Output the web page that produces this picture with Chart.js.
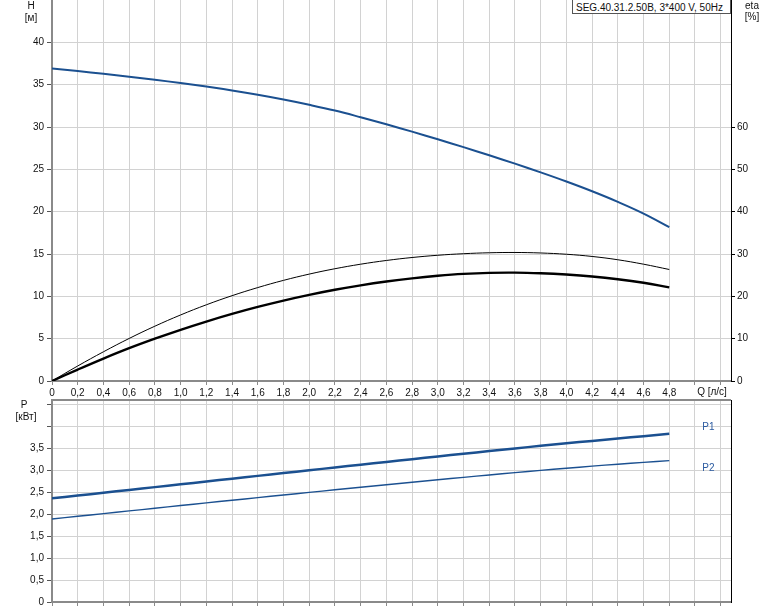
<!DOCTYPE html>
<html>
<head>
<meta charset="utf-8">
<script src="https://cdn.jsdelivr.net/npm/chart.js@4/dist/chart.umd.min.js"></script>
<style>
html,body{margin:0;padding:0;background:#fff;width:774px;height:611px;overflow:hidden;font-family:"Liberation Sans",Arial,sans-serif;}
#cTop{position:absolute;left:0;top:0;}
#cBot{position:absolute;left:0;top:390px;}
.lbl{position:absolute;font-size:10px;color:#111;text-align:center;line-height:10px;white-space:nowrap;}
#title{position:absolute;left:572px;top:-1px;height:15px;border:1px solid #555;background:#fff;font-size:10px;line-height:15px;color:#111;padding-left:3px;box-sizing:border-box;width:159px;white-space:nowrap;}
</style>
</head>
<body>
<canvas id="cTop" width="774" height="400"></canvas>
<canvas id="cBot" width="774" height="221"></canvas>
<div id="title">SEG.40.31.2.50B, 3*400 V, 50Hz</div>
<div class="lbl" style="left:21px;width:20px;top:1px;">H</div>
<div class="lbl" style="left:21px;width:20px;top:13px;">[м]</div>
<div class="lbl" style="left:740px;width:24px;top:1px;">eta</div>
<div class="lbl" style="left:740px;width:24px;top:12px;">[%]</div>
<div class="lbl" style="left:692px;width:40px;top:387px;">Q [л/с]</div>
<div class="lbl" style="left:14px;width:20px;top:400px;">P</div>
<div class="lbl" style="left:9px;width:34px;top:412px;">[кВт]</div>
<script>
// ---- data ----
const Q = [0,0.2,0.4,0.6,0.8,1.0,1.2,1.4,1.6,1.8,2.0,2.2,2.4,2.6,2.8,3.0,3.2,3.4,3.6,3.8,4.0,4.2,4.4,4.6,4.8];
const H = [36.9,36.60,36.28,35.94,35.58,35.19,34.77,34.31,33.80,33.24,32.62,31.94,31.15,30.32,29.45,28.55,27.62,26.66,25.67,24.64,23.56,22.41,21.16,19.78,18.18];
const etaPump = [0,3.55,6.9,10.05,12.95,15.6,18.0,20.15,22.07,23.77,25.25,26.52,27.59,28.47,29.17,29.70,30.07,30.29,30.36,30.24,29.94,29.42,28.64,27.59,26.34];
const etaTotal = [0,2.7,5.3,7.75,10.0,12.1,14.05,15.85,17.5,19.0,20.35,21.55,22.6,23.5,24.25,24.85,25.3,25.55,25.6,25.45,25.15,24.7,24.05,23.2,22.1];
const P1 = [2.36,2.424,2.488,2.552,2.616,2.68,2.744,2.808,2.872,2.936,3.0,3.063,3.126,3.189,3.252,3.314,3.376,3.437,3.497,3.556,3.613,3.669,3.724,3.777,3.83];
const P2 = [1.89,1.952,2.013,2.074,2.135,2.196,2.257,2.317,2.377,2.437,2.496,2.555,2.613,2.671,2.728,2.784,2.839,2.893,2.946,2.997,3.046,3.093,3.138,3.18,3.22];
const qTicks = [0,0.2,0.4,0.6,0.8,1.0,1.2,1.4,1.6,1.8,2.0,2.2,2.4,2.6,2.8,3.0,3.2,3.4,3.6,3.8,4.0,4.2,4.4,4.6,4.8,5.0,5.2];
const qLabelMax = 4.8;
const hTicks = [0,5,10,15,20,25,30,35,40];
const etaTicks = [0,10,20,30,40,50,60];
const pTicks = [0,0.5,1.0,1.5,2.0,2.5,3.0,3.5,4.0,4.5];
const pLabelMax = 3.5;
const Q_MAX = 5.28, H_MAX = 45, ETA_MAX = 90, P_MAX = 4.6;

// ---- style ----
const FONT = {family:'"Liberation Sans", Arial, sans-serif', size:10};
const TXT = '#111';
const GRID = '#d2d2d2';
const AXIS = '#8a8a8a';
const BLUE = '#1b5090';
const fmt = v => (Math.abs(v) < 1e-9 ? '0' : v.toFixed(1).replace('.', ','));
const pts = ys => Q.map((q,i)=>({x:q, y:ys[i]}));
const setTicks = arr => s => { s.ticks = arr.map(v=>({value:v})); };
const fixW = w => s => { s.width = w; s.paddingTop = 0; s.paddingBottom = 0; s.paddingLeft = 0; s.paddingRight = 0; };
const fixH = h => s => { s.height = h; s.paddingLeft = 0; s.paddingRight = 0; s.paddingTop = 0; s.paddingBottom = 0; };

const line = (data, axis, color, w) => ({data, yAxisID:axis, borderColor:color, borderWidth:w, pointRadius:0, fill:false, tension:0.4});

new Chart(document.getElementById('cTop'), {
  type:'line',
  data:{datasets:[
    line(pts(H),'yH',BLUE,2),
    line(pts(etaPump),'yEta','#000',1),
    line(pts(etaTotal),'yEta','#000',2.4)
  ]},
  options:{
    responsive:false, animation:false, devicePixelRatio:1,
    layout:{padding:0},
    plugins:{legend:{display:false}, tooltip:{enabled:false}},
    scales:{
      x:{type:'linear', min:0, max:Q_MAX, afterBuildTicks:setTicks(qTicks), afterFit:fixH(19),
         ticks:{font:FONT, color:TXT, padding:2, maxRotation:0, autoSkip:false, callback:v=> v>qLabelMax+1e-6 ? '' : fmt(v)},
         grid:{color:GRID, lineWidth:1, tickLength:4, tickColor:AXIS},
         border:{color:AXIS, width:2}},
      yH:{type:'linear', position:'left', min:0, max:H_MAX, afterBuildTicks:setTicks(hTicks), afterFit:fixW(52),
         ticks:{font:FONT, color:TXT, padding:3, callback:v=>String(v)},
         grid:{color:GRID, lineWidth:1, tickLength:5, tickColor:'#555'},
         border:{color:AXIS, width:2}},
      yEta:{type:'linear', position:'right', min:0, max:ETA_MAX, afterBuildTicks:setTicks(etaTicks), afterFit:fixW(43),
         ticks:{font:FONT, color:TXT, padding:2, callback:v=>String(v)},
         grid:{drawOnChartArea:false, tickLength:4, tickColor:'#000'},
         border:{color:'#000', width:1}}
    }
  }
});

const topBorder = {
  id:'topBorder',
  afterDraw(chart){
    const a = chart.chartArea, c = chart.ctx;
    c.save(); c.strokeStyle = AXIS; c.lineWidth = 2;
    c.beginPath(); c.moveTo(a.left-1, a.top); c.lineTo(a.right, a.top); c.stroke(); c.restore();
  }
};
const endLabels = {
  id:'endLabels',
  afterDraw(chart){
    const c = chart.ctx;
    c.save(); c.font = '10px "Liberation Sans", Arial, sans-serif'; c.fillStyle = '#2a5aa0'; c.textBaseline = 'middle'; c.textAlign = 'left';
    chart.data.datasets.forEach((ds, i) => {
      const meta = chart.getDatasetMeta(i); const p = meta.data[meta.data.length-1];
      const dy = ds.labelSide === 'above' ? -7 : 8;
      c.fillText(ds.label, p.x + 33, p.y + dy);
    });
    c.restore();
  }
};

new Chart(document.getElementById('cBot'), {
  type:'line',
  data:{datasets:[
    Object.assign(line(pts(P1),'yP',BLUE,2.5), {label:'P1', labelSide:'above'}),
    Object.assign(line(pts(P2),'yP',BLUE,1.4), {label:'P2', labelSide:'below'})
  ]},
  options:{
    responsive:false, animation:false, devicePixelRatio:1,
    layout:{padding:{top:10, left:0, right:0, bottom:0}},
    plugins:{legend:{display:false}, tooltip:{enabled:false}},
    scales:{
      x:{type:'linear', min:0, max:Q_MAX, afterBuildTicks:setTicks(qTicks), afterFit:fixH(9),
         ticks:{font:FONT, color:TXT, padding:0, maxRotation:0, autoSkip:false, callback:()=>''},
         grid:{color:GRID, lineWidth:1, tickLength:4, tickColor:AXIS},
         border:{color:AXIS, width:2}},
      yP:{type:'linear', position:'left', min:0, max:P_MAX, afterBuildTicks:setTicks(pTicks), afterFit:fixW(52),
         ticks:{font:FONT, color:TXT, padding:3, callback:v=> v>pLabelMax+1e-6 ? '' : fmt(v)},
         grid:{color:GRID, lineWidth:1, tickLength:5, tickColor:'#555'},
         border:{color:AXIS, width:2}},
      yR:{type:'linear', position:'right', min:0, max:P_MAX, afterFit:fixW(43),
         ticks:{display:false},
         grid:{drawOnChartArea:false, drawTicks:false},
         border:{color:'#000', width:1}}
    }
  },
  plugins:[topBorder, endLabels]
});
</script>
</body>
</html>
